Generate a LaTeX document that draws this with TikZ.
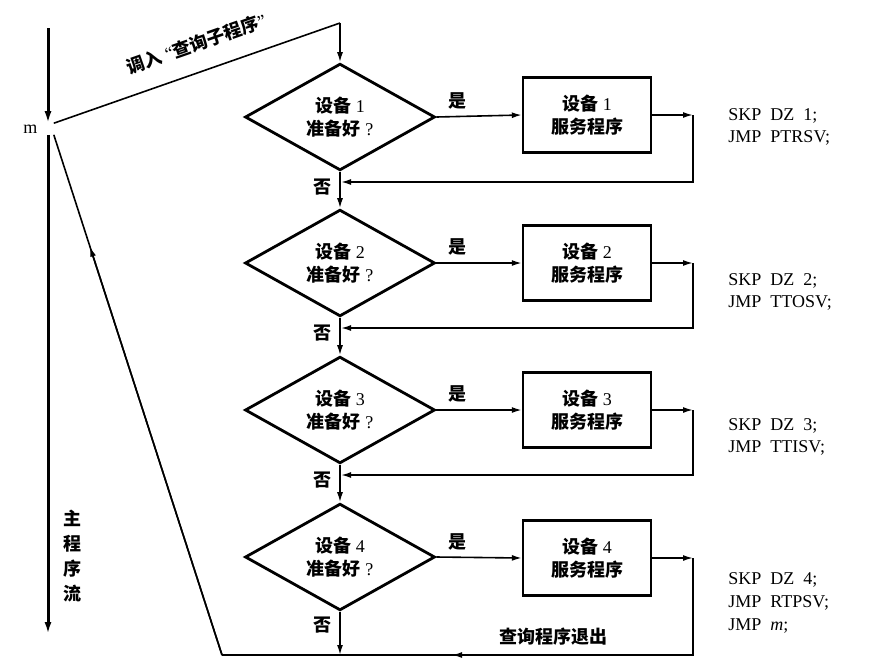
\documentclass[tikz,border=0pt]{standalone}
\usepackage{fontspec}
\setmainfont{Liberation Serif}
\newfontfamily\cjk{Noto Sans CJK SC}
\usetikzlibrary{arrows.meta,positioning,shapes.geometric,calc}
\newcommand{\zh}[1]{{\cjk\bfseries #1}}

\begin{document}
\begin{tikzpicture}[
    x=0.5pt, y=-0.5pt,
    every node/.style={
      align=center,
      font=\fontsize{9}{11.5}\selectfont
    },
    test/.style={diamond, draw, line width=1.4pt,
      minimum width=95pt, minimum height=51pt, inner sep=0pt},
    service/.style={draw, line width=1.2pt,
      minimum width=64pt, minimum height=37.5pt},
    code/.style={anchor=west, align=left, font=\fontsize{9}{11}\selectfont},
    every path/.style={line width=0.8pt},
    arr/.style={-{Latex[length=5pt,width=3pt]}},
    flow/.style={line width=1.5pt,-{Latex[length=6pt,width=3.5pt]}}
  ]
    \useasboundingbox[fill=white] (0,0) rectangle (889,671);

    % main program flow
    \coordinate (mtop) at (48,28);
    \coordinate (mend) at (48,634);
    \node[minimum width=5pt, minimum height=5pt, inner sep=0pt,
      label={[inner sep=2pt]left:m}] (m) at (48,129) {};
    \draw[flow] (mtop) -- (m.north);
    \draw[flow] (m.south) -- (mend);
    \node (mainlbl) at (72,556)
      {\zh{主}\\[1pt]\zh{程}\\[1pt]\zh{序}\\[1pt]\zh{流}};

    % tests
    \node[test] (d1) at (340,117) {\zh{设备} 1\\\zh{准备好} ?};
    \node[test] (d2) at (340,263) {\zh{设备} 2\\\zh{准备好} ?};
    \node[test] (d3) at (340,410) {\zh{设备} 3\\\zh{准备好} ?};
    \node[test] (d4) at (340,557) {\zh{设备} 4\\\zh{准备好} ?};

    % service routines
    \node[service] (b1) at (587,115) {\zh{设备} 1\\\zh{服务程序}};
    \node[service] (b2) at (587,263) {\zh{设备} 2\\\zh{服务程序}};
    \node[service] (b3) at (587,410) {\zh{设备} 3\\\zh{服务程序}};
    \node[service] (b4) at (587,558) {\zh{设备} 4\\\zh{服务程序}};

    \node[code] (c1) at (721,127) {SKP\ \ DZ\ \ 1;\\JMP\ \ PTRSV;};
    \node[code] (c2) at (721,292) {SKP\ \ DZ\ \ 2;\\JMP\ \ TTOSV;};
    \node[code] (c3) at (721,437) {SKP\ \ DZ\ \ 3;\\JMP\ \ TTISV;};
    \node[code,font=\fontsize{9}{11.5}\selectfont] (c4) at (721,603)
      {SKP\ \ DZ\ \ 4;\\JMP\ \ RTPSV;\\JMP\ \ \textit{m};};

    % call of the polling routine
    \coordinate (call) at (340,23);
    \draw (m.north east) -- node[sloped,above=6pt,pos=0.53]
      {\zh{调入}\ ``\zh{查询子程序}''} (call);
    \draw[arr] (call) -- (d1.north);

    % yes branches
    \draw[arr] (d1.east) -- node[pos=0.25,above] {\zh{是}} (b1.west);
    \draw[arr] (d2.east) -- node[pos=0.25,above] {\zh{是}} (b2.west);
    \draw[arr] (d3.east) -- node[pos=0.25,above] {\zh{是}} (b3.west);
    \draw[arr] (d4.east) -- node[pos=0.25,above] {\zh{是}} (b4.west);

    % returns
    \coordinate (r1) at (693,115);
    \coordinate (r2) at (693,263);
    \coordinate (r3) at (693,410);
    \coordinate (r4) at (693,558);
    \coordinate (j1) at (341,182);
    \coordinate (j2) at (341,328);
    \coordinate (j3) at (341,475);
    \draw[arr] (b1.east) -- (r1);
    \draw[arr] (b2.east) -- (r2);
    \draw[arr] (b3.east) -- (r3);
    \draw[arr] (b4.east) -- (r4);
    \draw[arr] (r1) |- (j1);
    \draw[arr] (r2) |- (j2);
    \draw[arr] (r3) |- (j3);

    % no branches
    \draw[arr] (d1.south) -- (d2.north);
    \draw[arr] (d2.south) -- (d3.north);
    \draw[arr] (d3.south) -- (d4.north);
    \node (n1) at (322,187) {\zh{否}};
    \node (n2) at (322,333) {\zh{否}};
    \node (n3) at (322,480) {\zh{否}};
    \node (n4) at (322,625) {\zh{否}};

    % exit of the polling routine
    \coordinate (exit) at (222,655);
    \coordinate (j4) at (340,655);
    \coordinate (exitarr) at (452,655);
    \draw[arr] (d4.south) -- (j4);
    \draw (r4) |- (exit);
    \draw[arr] (r4) |- (exitarr);
    \node (exitlbl) at (553,637) {\zh{查询程序退出}};
    \draw (exit) -- (m.south east);
    \draw[arr] (exit) -- ($(exit)!0.785!(m.south east)$);
  \end{tikzpicture}
\end{document}
